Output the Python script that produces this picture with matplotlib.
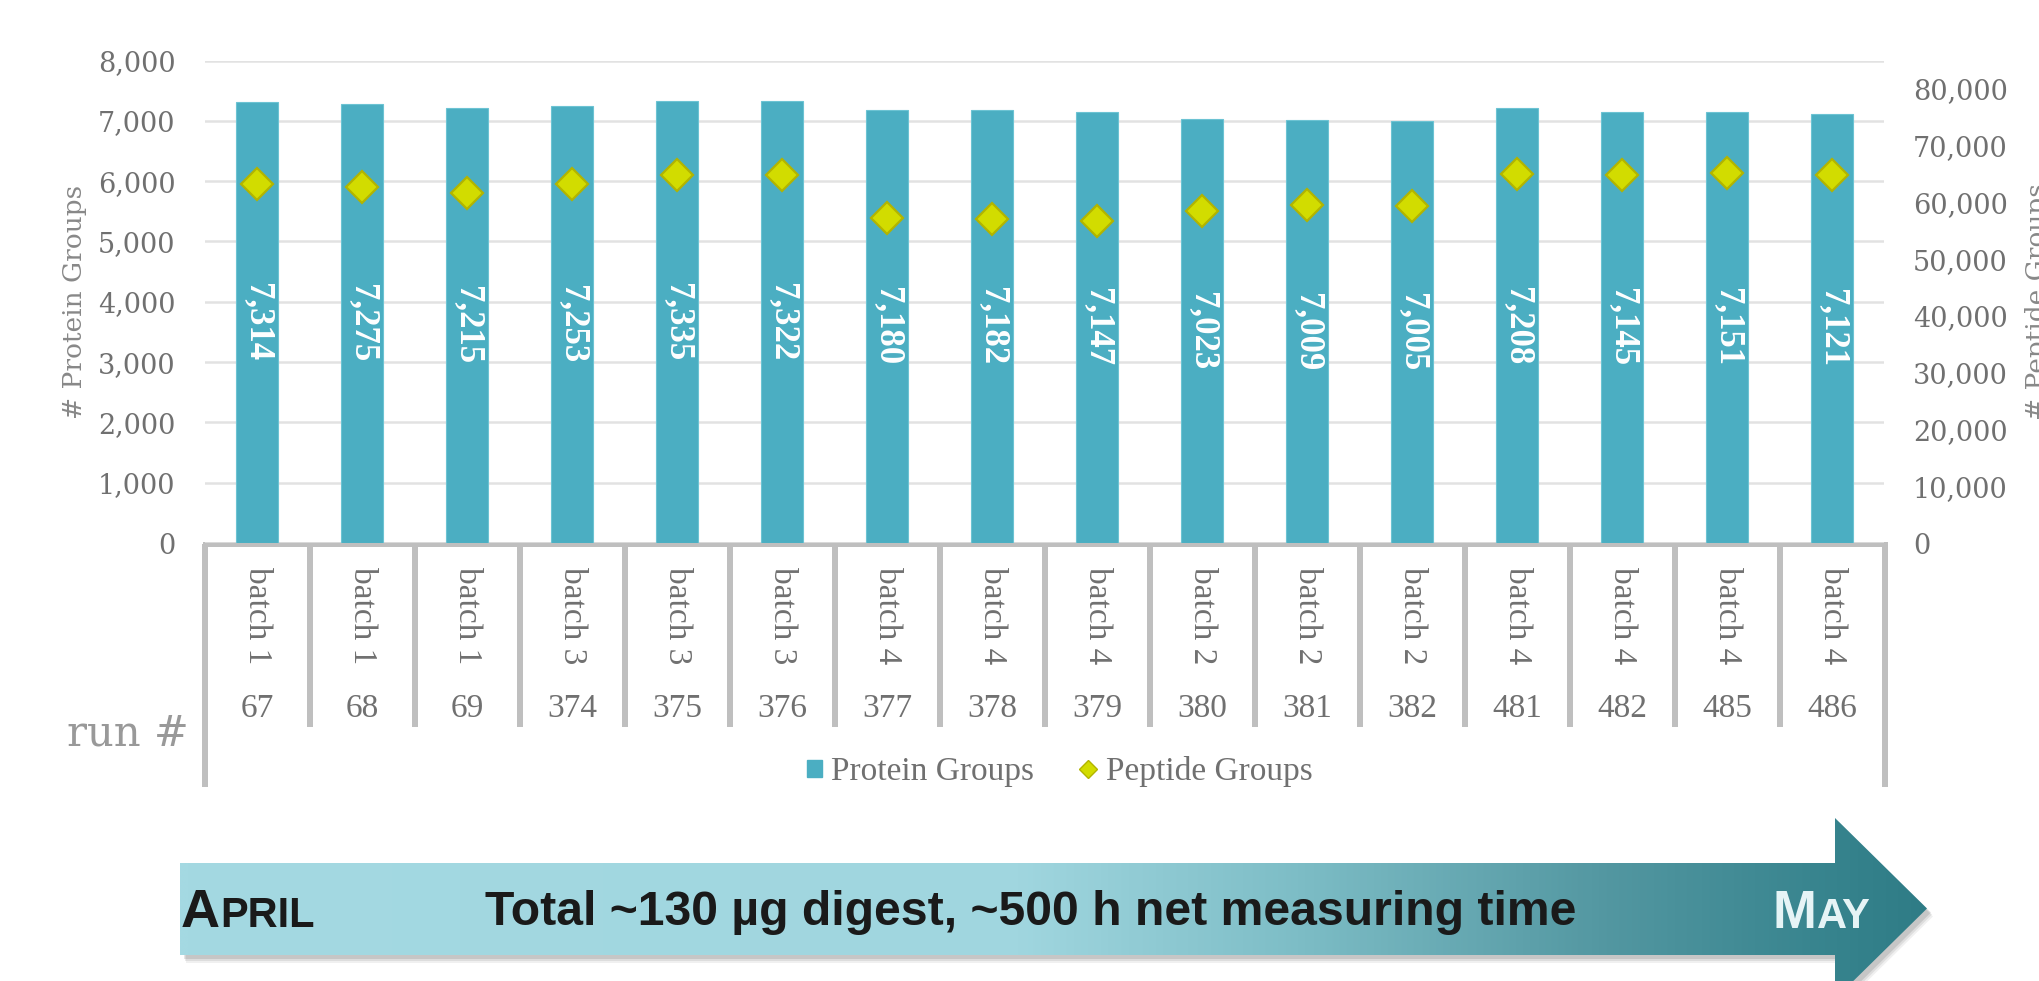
import matplotlib
matplotlib.use("Agg")
import matplotlib.pyplot as plt
import numpy as np
from matplotlib.transforms import blended_transform_factory
from matplotlib.patches import Polygon, Rectangle
from matplotlib.lines import Line2D
from matplotlib import font_manager
from matplotlib.colors import LinearSegmentedColormap

# ---------------- data ----------------
batches = ["batch 1", "batch 1", "batch 1", "batch 3", "batch 3", "batch 3",
           "batch 4", "batch 4", "batch 4", "batch 2", "batch 2", "batch 2",
           "batch 4", "batch 4", "batch 4", "batch 4"]
runs = ["67", "68", "69", "374", "375", "376", "377", "378", "379",
        "380", "381", "382", "481", "482", "485", "486"]
protein_groups = [7314, 7275, 7215, 7253, 7335, 7322, 7180, 7182,
                  7147, 7023, 7009, 7005, 7208, 7145, 7151, 7121]
peptide_groups = [63200, 62700, 61600, 63200, 64800, 64800, 57300, 57100,
                  56800, 58500, 59600, 59400, 65000, 64800, 65200, 64800]
left_ticks = [0, 1000, 2000, 3000, 4000, 5000, 6000, 7000, 8000]
right_ticks = [0, 10000, 20000, 30000, 40000, 50000, 60000, 70000, 80000]
series_names = ["Protein Groups", "Peptide Groups"]
axis_titles = ["# Protein Groups", "# Peptide Groups"]
row_title = "run #"
arrow_left_word = ("A", "PRIL")
arrow_right_word = ("M", "AY")
arrow_text = "Total ~130 \u00b5g digest, ~500 h net measuring time"

# ---------------- style ----------------
W, H, DPI = 2040, 981, 100
BAR = "#4BAEC2"
DIA = "#D2DC00"
DIA_EDGE = "#B2B400"
GRID = "#E2E2E2"
LINEC = "#BFBFBF"
TXT = "#707070"
TITLE = "#888888"


def has_font(name):
    try:
        font_manager.findfont(font_manager.FontProperties(family=name),
                              fallback_to_default=False)
        return True
    except Exception:
        return False


SERIF_W = "DejaVu Serif"
SERIF_N = "Liberation Serif" if has_font("Liberation Serif") else "DejaVu Serif"
SANS = "Liberation Sans" if has_font("Liberation Sans") else "DejaVu Sans"
SANS_N = "Liberation Sans Narrow" if has_font("Liberation Sans Narrow") else SANS

plt.rcParams["font.family"] = SERIF_W

fig = plt.figure(figsize=(W / DPI, H / DPI), dpi=DPI, facecolor="white")

# overlay in pixel coordinates (y down)
ov = fig.add_axes([0, 0, 1, 1])
ov.set_xlim(0, W)
ov.set_ylim(H, 0)
ov.axis("off")

# main axes
x0, x1, ytop, ybot = 204.5, 1884.5, 60.5, 543.0
ax = fig.add_axes([x0 / W, 1 - ybot / H, (x1 - x0) / W, (ybot - ytop) / H])
ax.patch.set_visible(False)
x = np.arange(len(protein_groups))
ax.bar(x, protein_groups, width=0.4, color=BAR, edgecolor="#6CC3D3",
       linewidth=0.8, zorder=2)
ax.set_xlim(-0.5, len(x) - 0.5)
ax.set_ylim(0, 8000)
ax.set_yticks(left_ticks)
ax.set_yticklabels([f"{t:,}" for t in left_ticks])
ax.set_xticks([])
ax.yaxis.grid(True, color=GRID, linewidth=1.8)
ax.set_axisbelow(True)
for s in ax.spines.values():
    s.set_visible(False)
ax.tick_params(axis="y", length=0, pad=21, labelsize=19.5, labelcolor=TXT)
for lab in ax.get_yticklabels():
    lab.set_family(SERIF_W)

for xi, v in zip(x, protein_groups):
    ax.text(xi, v / 2, f"{v:,}", rotation=-90, ha="center", va="center",
            color="white", fontweight="bold", family=SERIF_N, fontsize=25,
            zorder=4)

ax2 = ax.twinx()
ax2.set_ylim(0, 85000)
ax2.set_yticks(right_ticks)
ax2.set_yticklabels([f"{t:,}" for t in right_ticks])
for s in ax2.spines.values():
    s.set_visible(False)
ax2.tick_params(axis="y", length=0, pad=20.5, labelsize=19.5, labelcolor=TXT)
ax2.plot(x, peptide_groups, linestyle="none", marker="D", markersize=16,
         markerfacecolor=DIA, markeredgecolor=DIA_EDGE, markeredgewidth=1.6,
         zorder=5)

# axis titles
ov.text(75, 302, axis_titles[0], rotation=90, ha="center", va="center",
        family=SERIF_W, fontsize=19, color=TITLE)
ov.text(2037, 302, axis_titles[1], rotation=90, ha="center", va="center",
        family=SERIF_W, fontsize=19, color=TITLE)

# ---------------- category table ----------------
trans = blended_transform_factory(ax.transData, ov.transData)
n = len(x)
ov.add_line(Line2D([-0.5, n - 0.5], [544, 544], transform=trans, color=LINEC,
                   linewidth=3.6, solid_capstyle="projecting", zorder=3))
for k in range(n + 1):
    bottom = 787 if k in (0, n) else 727
    ov.add_line(Line2D([k - 0.5, k - 0.5], [544, bottom], transform=trans,
                       color=LINEC, linewidth=4.3, solid_capstyle="butt",
                       zorder=3))
for xi, b, r in zip(x, batches, runs):
    ov.text(xi, 616, b, transform=trans, rotation=-90, ha="center",
            va="center", family=SERIF_N, fontsize=24, color=TXT)
    ov.text(xi, 709, r, transform=trans, ha="center", va="center",
            family=SERIF_N, fontsize=24, color=TXT)

ov.text(189, 745, row_title, ha="right", va="baseline", family=SERIF_W,
        fontsize=30, color="#999999")

# ---------------- legend ----------------
ov.add_patch(Rectangle((807, 760), 15, 17, color=BAR))
ov.text(831, 780, series_names[0], ha="left", va="baseline", family=SERIF_N,
        fontsize=24, color=TXT)
ov.plot([1088], [769], marker="D", markersize=9.5, markerfacecolor=DIA,
        markeredgecolor=DIA_EDGE, markeredgewidth=1.0, linestyle="none")
ov.text(1106, 780, series_names[1], ha="left", va="baseline", family=SERIF_N,
        fontsize=24, color=TXT)

# ---------------- arrow ----------------
pts = [(180, 863), (1835, 863), (1835, 818), (1927, 908.5), (1835, 999),
       (1835, 955), (180, 955)]
for off, a in [((6, 8), 0.06), ((5, 6), 0.08), ((4, 4), 0.10)]:
    ov.add_patch(Polygon([(px + off[0], py + off[1]) for px, py in pts],
                         closed=True, facecolor="black", edgecolor="none",
                         alpha=a, zorder=1))
arrow = Polygon(pts, closed=True, facecolor="none", edgecolor="none", zorder=2)
ov.add_patch(arrow)
stops = [(180, "#A4D9E2"), (1020, "#A0D6DF"), (1300, "#7DBDC6"),
         (1600, "#5498A2"), (1840, "#36838D"), (1927, "#2F7C86")]
span = 1927 - 180
cmap = LinearSegmentedColormap.from_list(
    "arr", [((p - 180) / span, c) for p, c in stops])
grad = np.linspace(0, 1, 800)[None, :]
im = ov.imshow(grad, cmap=cmap, extent=(180, 1927, 999, 818), aspect="auto",
               zorder=2, interpolation="bilinear")
im.set_clip_path(arrow)
ov.set_xlim(0, W)
ov.set_ylim(H, 0)

renderer = fig.canvas.get_renderer()


def small_caps(xl, base, big, small, big_fs, small_fs, family, color,
               weight="bold"):
    t1 = ov.text(xl, base, big, ha="left", va="baseline", family=family,
                 fontsize=big_fs, color=color, fontweight=weight, zorder=4)
    bb = t1.get_window_extent(renderer)
    t2 = ov.text(xl + bb.width, base, small, ha="left", va="baseline",
                 family=family, fontsize=small_fs, color=color,
                 fontweight=weight, zorder=4)
    return t1, t2


def fit(t, target_w):
    bb = t.get_window_extent(renderer)
    t.set_fontsize(t.get_fontsize() * target_w / bb.width)


# APRIL
a1, a2 = small_caps(181, 927, arrow_left_word[0], arrow_left_word[1],
                    39, 30, SANS_N, "#1A1A1A")
# main text
mt = ov.text(485, 925, arrow_text, ha="left", va="baseline", family=SANS_N,
             fontsize=35, fontweight="bold", color="#1A1A1A", zorder=4)
fit(mt, 1090)
# MAY
m1, m2 = small_caps(1773, 928, arrow_right_word[0], arrow_right_word[1],
                    38, 30, SANS, "#E6F4F6")

fig.savefig("out.png", dpi=DPI, facecolor="white")
